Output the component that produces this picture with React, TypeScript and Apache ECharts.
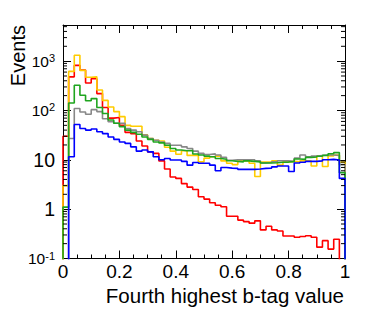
import React, { useEffect, useRef } from 'react';
import * as echarts from 'echarts';

// Histogram: 50 bins of width 0.02 on [0, 1]; values are bin contents (0 = empty bin)
const BIN_WIDTH = 0.02;

const RED = [
  30, 480, 820, 660, 360, 440, 220, 115, 70, 72,
  50, 36, 34, 24, 19, 14.5, 13.5, 9.5, 6.5, 4.5,
  4.2, 3.3, 2.8, 2.5, 1.78, 1.6, 1.35, 1.2, 1.12, 0.72,
  0.72, 0.6, 0.56, 0.52, 0.58, 0.38, 0.45, 0.38, 0.36, 0.285,
  0.285, 0.27, 0.28, 0.29, 0.27, 0.17, 0.23, 0.155, 0.245, 0,
];

const YELLOW = [
  3, 620, 1320, 650, 470, 480, 260, 160, 118, 95,
  75, 50, 48, 48, 32, 27, 25, 24, 18, 15,
  13, 15.3, 12.3, 12.3, 9.1, 10.8, 11.5, 11.9, 9.5, 8.5,
  8.0, 9.5, 9.5, 8.5, 4.6, 9.0, 9.1, 9.5, 7.8, 9.1,
  9.3, 9.1, 9.5, 9.5, 7.5, 12, 7.3, 12, 12.5, 9,
];

const GRAY = [
  0, 27, 110, 93, 84, 104, 95, 68, 59, 55,
  55, 43, 40, 37, 31.6, 27, 25, 23, 21.5, 19.8,
  19.8, 18.3, 17, 15, 13.5, 12.8, 13.2, 12.5, 11.2, 9.8,
  10, 10, 10, 10, 9.6, 8.6, 8.8, 9.1, 9.6, 9.5,
  9.3, 10.8, 12.5, 11.5, 11.9, 12.2, 12.5, 12.5, 12.2, 8,
];

const GREEN = [
  1.1, 142, 324, 204, 157, 174, 115, 87, 64, 55,
  47, 40, 36, 33, 29, 26, 23, 22, 19.8, 17,
  15.8, 15.3, 15.5, 13.1, 12.5, 11.9, 11.5, 10.6, 10.3, 9.6,
  9.3, 9.1, 9.5, 9.3, 9.1, 8.6, 8.6, 8.7, 8.9, 9.0,
  9.2, 10.4, 10.2, 11.2, 11.4, 11.8, 12.3, 13.3, 14.0, 5.5,
];

const BLUE = [
  0, 11.5, 52, 43, 40, 42, 37, 34, 29, 26,
  23, 21.5, 18.3, 15, 15.8, 14.5, 11.5, 10, 10.6, 9.9,
  9.9, 9.3, 7.8, 8.8, 8.5, 8.5, 7.8, 6.0, 7.0, 6.8,
  6.7, 6.4, 6.4, 6.4, 6.5, 6.7, 6.8, 7.2, 7.5, 7.5,
  5.8, 8.6, 8.9, 9.3, 9.3, 9.5, 10, 10.2, 9.9, 4.2,
];

const SERIES_ORDER = [
  { name: 'red', values: RED, color: '#ff0000' },
  { name: 'yellow', values: YELLOW, color: '#ffcc00' },
  { name: 'gray', values: GRAY, color: '#888888' },
  { name: 'green', values: GREEN, color: '#1fa51f' },
  { name: 'blue', values: BLUE, color: '#0000ff' },
];

const X_MIN = 0;
const X_MAX = 1;
const X_INTERVAL = 0.2;
const X_TICK_LABELS = ['0', '0.2', '0.4', '0.6', '0.8', '1'];
const Y_MIN = 0.1;
const Y_MAX = 5400;
const Y_TICK_EXPONENTS = [-1, 0, 1, 2, 3];
const X_TITLE = 'Fourth highest b-tag value';
const Y_TITLE = 'Events';

const FONT = '"Liberation Sans", Arial, Helvetica, sans-serif';
const FLOOR = 0.01; // below the axis minimum, clipped away

function histToSteps(values: number[]): number[][] {
  const pts: number[][] = [[X_MIN, FLOOR]];
  values.forEach((v, i) => pts.push([i * BIN_WIDTH, v > 0 ? v : FLOOR]));
  const last = values[values.length - 1];
  pts.push([X_MAX, last > 0 ? last : FLOOR]);
  pts.push([X_MAX, FLOOR]);
  return pts;
}

function yMinorTicks(): number[][] {
  const out: number[][] = [];
  for (let e = Y_TICK_EXPONENTS[0]; e <= Y_TICK_EXPONENTS[Y_TICK_EXPONENTS.length - 1]; e++) {
    for (let m = 2; m <= 9; m++) {
      const v = m * Math.pow(10, e);
      if (v < Y_MAX) out.push([0, v]);
    }
  }
  return out;
}

function yLabel(val: number): string {
  const e = Math.log10(val);
  const r = Math.round(e);
  if (Math.abs(e - r) > 1e-6 || Y_TICK_EXPONENTS.indexOf(r) < 0) return '';
  if (r === 0) return '{big|1}';
  if (r === 1) return '{big|10}';
  return '{base|10}{sup|' + r + '}';
}

function xLabel(val: number): string {
  const idx = Math.round((val - X_MIN) / X_INTERVAL);
  if (Math.abs(val - (X_MIN + idx * X_INTERVAL)) > 1e-6) return '';
  return X_TICK_LABELS[idx] ?? '';
}

export default function App() {
  const ref = useRef<HTMLDivElement>(null);
  useEffect(() => {
    if (!ref.current) return;
    const chart = echarts.init(ref.current, null, { renderer: 'svg' });
    const axisLine = { show: true, onZero: false, lineStyle: { color: '#000', width: 1 } };
    const xCommon = {
      type: 'value' as const,
      min: X_MIN,
      max: X_MAX,
      interval: X_INTERVAL,
      axisLine,
      axisTick: { show: true, inside: true, length: 8, lineStyle: { color: '#000', width: 1 } },
      minorTick: { show: true, splitNumber: 4, length: 4, lineStyle: { color: '#000', width: 1 } },
      splitLine: { show: false },
      minorSplitLine: { show: false },
    };
    const yCommon = {
      type: 'log' as const,
      logBase: 10,
      min: Y_MIN,
      max: Y_MAX,
      axisLine,
      axisTick: { show: true, inside: true, length: 8, lineStyle: { color: '#000', width: 1 } },
      splitLine: { show: false },
    };
    const option: any = {
      animation: false,
      backgroundColor: '#fff',
      grid: { left: 63, top: 25, width: 282, height: 233.5, containLabel: false, outerBoundsMode: 'none' },
      xAxis: [
        {
          ...xCommon,
          position: 'bottom',
          axisLabel: {
            show: true,
            formatter: xLabel,
            fontSize: 19,
            fontFamily: FONT,
            color: '#000',
            margin: 3,
            showMinLabel: true,
            showMaxLabel: true,
          },
        },
        { ...xCommon, position: 'top', axisLabel: { show: false } },
      ],
      yAxis: [
        {
          ...yCommon,
          position: 'left',
          axisLabel: {
            show: true,
            formatter: yLabel,
            fontSize: 19,
            fontFamily: FONT,
            color: '#000',
            margin: 8,
            showMaxLabel: false,
            rich: {
              big: { fontSize: 19.5, fontFamily: FONT, color: '#000' },
              base: { fontSize: 15.5, fontFamily: FONT, color: '#000', lineHeight: 17 },
              sup: { fontSize: 11, fontFamily: FONT, color: '#000', verticalAlign: 'top', lineHeight: 11 },
            },
          },
        },
        { ...yCommon, position: 'right', axisLabel: { show: false } },
      ],
      series: [
        ...SERIES_ORDER.map((s) => ({
          type: 'line',
          name: s.name,
          step: 'end',
          data: histToSteps(s.values),
          showSymbol: false,
          symbol: 'none',
          clip: true,
          lineStyle: { color: s.color, width: 1.6 },
          itemStyle: { color: s.color },
          xAxisIndex: 0,
          yAxisIndex: 0,
        })),
        {
          type: 'custom',
          name: 'minorTicks',
          xAxisIndex: 0,
          yAxisIndex: 0,
          data: yMinorTicks(),
          encode: { x: 0, y: 1 },
          clip: false,
          z: 10,
          silent: true,
          renderItem: (_params: any, api: any) => {
            const v = api.value(1);
            const l = api.coord([X_MIN, v]);
            const r = api.coord([X_MAX, v]);
            return {
              type: 'group',
              children: [
                { type: 'line', shape: { x1: l[0], y1: l[1], x2: l[0] + 4, y2: l[1] }, style: { stroke: '#000', lineWidth: 1 } },
                { type: 'line', shape: { x1: r[0] - 4, y1: r[1], x2: r[0], y2: r[1] }, style: { stroke: '#000', lineWidth: 1 } },
              ],
            };
          },
        },
      ],
      graphic: [
        {
          type: 'text',
          x: 344,
          y: 295,
          style: {
            text: X_TITLE,
            fontSize: 20.5,
            fontFamily: FONT,
            fill: '#000',
            align: 'right',
            verticalAlign: 'middle',
          },
        },
        {
          type: 'text',
          x: 17.5,
          y: 25,
          rotation: Math.PI / 2,
          style: {
            text: Y_TITLE,
            fontSize: 20,
            fontFamily: FONT,
            fill: '#000',
            align: 'right',
            verticalAlign: 'middle',
          },
        },
      ],
    };
    chart.setOption(option);
    return () => chart.dispose();
  }, []);
  return (
    <div
      ref={ref}
      style={{ position: 'fixed', left: 0, top: 0, width: 374, height: 316, background: '#fff' }}
    />
  );
}
